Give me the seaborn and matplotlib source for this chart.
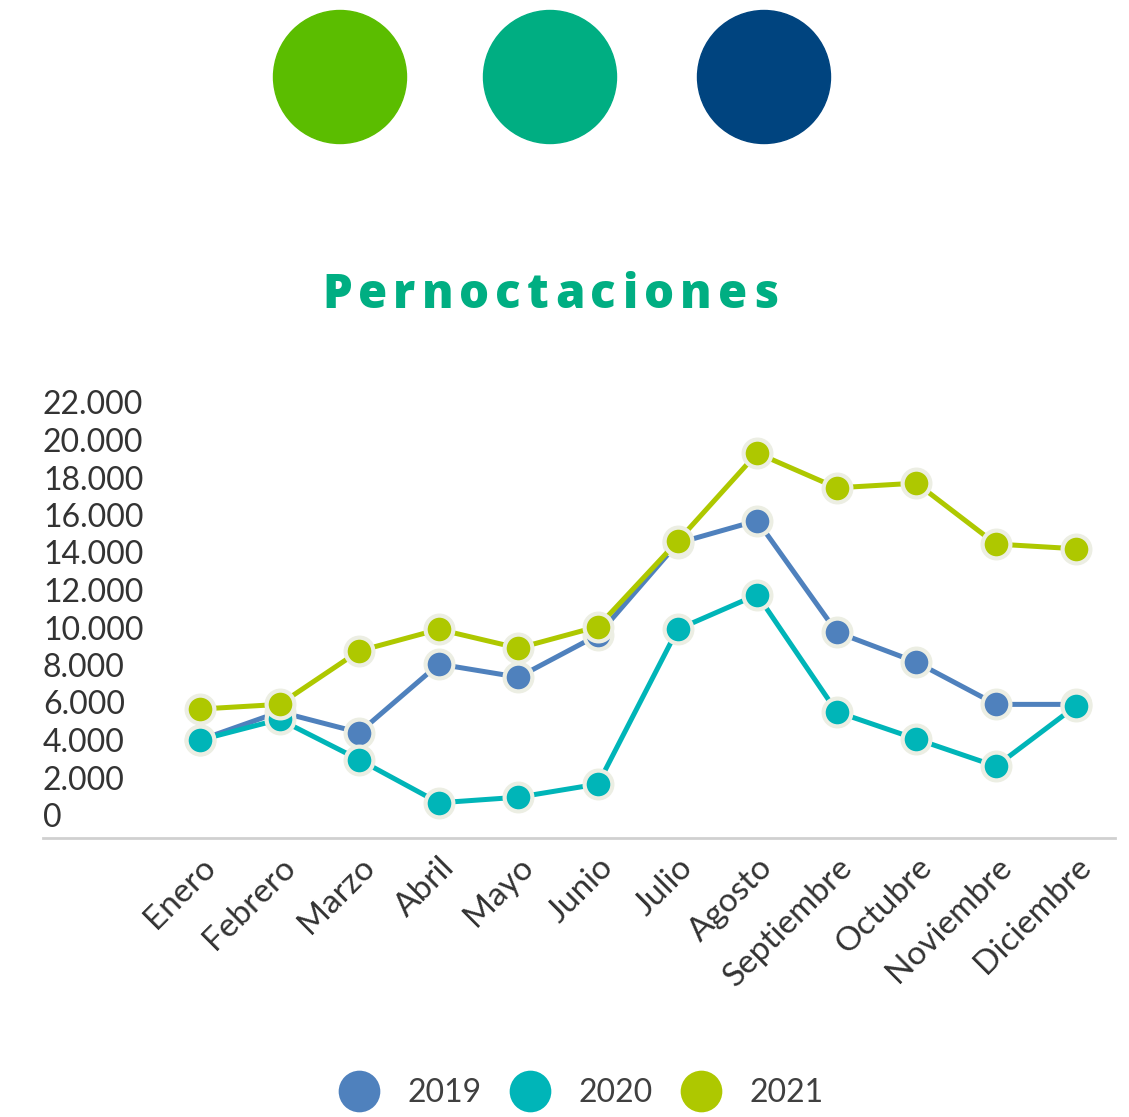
import numpy as np
import pandas as pd
import seaborn as sns
import matplotlib.pyplot as plt
from matplotlib.lines import Line2D
from matplotlib.patches import Circle

# Datos (pernoctaciones por mes)
meses = ["Enero", "Febrero", "Marzo", "Abril", "Mayo", "Junio", "Julio",
         "Agosto", "Septiembre", "Octubre", "Noviembre", "Diciembre"]
anios = ["2019", "2020", "2021"]
v2019 = [4000, 5500, 4400, 8050, 7350, 9600, 14500, 15700, 9750, 8150, 5900, 5900]
v2020 = [4000, 5100, 2950, 650, 950, 1650, 9900, 11750, 5500, 4050, 2600, 5800]
v2021 = [5650, 5900, 8750, 9900, 8900, 10050, 14600, 19300, 17450, 17700, 14450, 14200]
yticks = list(range(0, 22001, 2000))

colores = {"2019": "#4F81BD", "2020": "#00B5B8", "2021": "#AEC800"}
circulos = ["#5BBD00", "#00AE82", "#00447F"]
verde_titulo = "#00AE82"

df = pd.DataFrame({
    "Mes": meses * 3,
    "Pos": list(range(12)) * 3,
    "Valor": v2019 + v2020 + v2021,
    "Anio": [a for a in anios for _ in meses],
})

sns.set_theme(style="white")
plt.rcParams["font.family"] = ["Lato", "DejaVu Sans"]

W, H = 1129, 1117
fig = plt.figure(figsize=(W / 100, H / 100), dpi=100)

# Círculos decorativos superiores
ax_top = fig.add_axes([0, 1 - 150 / H, 1, 150 / H])
ax_top.set_xlim(0, W)
ax_top.set_ylim(150, 0)
ax_top.set_aspect("equal")
ax_top.axis("off")
for cx, c in zip([340, 550, 764], circulos):
    ax_top.add_patch(Circle((cx, 77), 66.5, color=c))

# Ejes principales
y0_px, top_px, bottom_px = 815, 390, 838
px_per_1000 = 18.75
ymin = -(bottom_px - y0_px) / px_per_1000 * 1000
ymax = (y0_px - top_px) / px_per_1000 * 1000
x_left, x_right, x_first, step = 43, 1115, 200, 79.6
ax = fig.add_axes([x_left / W, 1 - bottom_px / H, (x_right - x_left) / W, (bottom_px - top_px) / H])

sns.lineplot(data=df, x="Pos", y="Valor", hue="Anio", palette=colores, ax=ax,
             marker="o", markersize=20, markeredgecolor="#ECEEE3", markeredgewidth=3,
             linewidth=3.6, sort=False, legend=False)

ax.set_xlim(-(x_first - x_left) / step, 11 + (x_right - x_first - 11 * step) / step)
ax.set_ylim(ymin, ymax)
ax.set_xlabel("")
ax.set_ylabel("")
ax.set_yticks(yticks)
ax.set_yticklabels([f"{v:,}".replace(",", ".") for v in yticks], fontsize=23, color="#333333")
for lbl in ax.get_yticklabels():
    lbl.set_horizontalalignment("left")
ax.tick_params(axis="y", length=0, pad=0)
ax.set_xticks(range(12))
ax.set_xticklabels(meses, rotation=45, ha="right", rotation_mode="anchor",
                   fontsize=24, color="#333333")
ax.tick_params(axis="x", length=0, pad=10)
for s in ["top", "right", "left"]:
    ax.spines[s].set_visible(False)
ax.spines["bottom"].set_color("#D0D0D0")
ax.spines["bottom"].set_linewidth(2)

# Título con espaciado entre letras
titulo = "Pernoctaciones"
fuente_titulo = dict(fontsize=34, fontweight="heavy", family=["Open Sans", "DejaVu Sans"],
                     color=verde_titulo)
fig.canvas.draw()
r = fig.canvas.get_renderer()
anchos = []
for ch in titulo:
    t = fig.text(0, 0, ch, **fuente_titulo)
    anchos.append(t.get_window_extent(r).width)
    t.remove()
t_left, t_right = 322, 778
track = (t_right - t_left - sum(anchos)) / (len(titulo) - 1)
x = t_left
for ch, w in zip(titulo, anchos):
    fig.text(x / W, 1 - 296 / H, ch, va="center", ha="left", **fuente_titulo)
    x += w + track

# Leyenda
handles = [Line2D([], [], linestyle="none", marker="o", markersize=30,
                  markerfacecolor=colores[a], markeredgecolor="none") for a in anios]
fig.legend(handles, anios, loc="center", bbox_to_anchor=(581 / W, 1 - 1093 / H),
           ncol=3, frameon=False, fontsize=23, handlelength=1.3, handletextpad=0.87,
           columnspacing=0.87, labelcolor="#404040")

fig.savefig("out.png", dpi=100)
